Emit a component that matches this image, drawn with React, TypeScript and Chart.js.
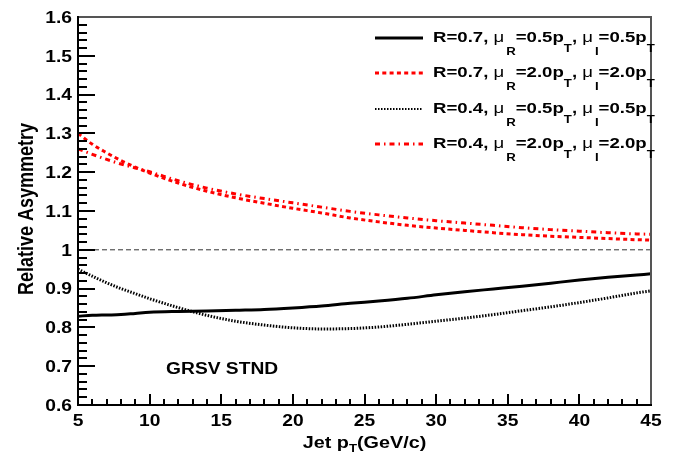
import React, { useEffect, useRef } from "react";
import { Chart, registerables } from "chart.js";

Chart.register(...registerables);

// ---- data ----
const ptValues = [5, 6, 7, 8, 9, 10, 12, 14, 16, 18, 20, 22, 24, 26, 28, 30, 32, 34, 36, 38, 40, 42, 44, 45];
const asymR07Low = [0.829, 0.831, 0.832, 0.833, 0.836, 0.839, 0.841, 0.842, 0.844, 0.846, 0.85, 0.855, 0.862, 0.868, 0.875, 0.884, 0.892, 0.899, 0.906, 0.914, 0.922, 0.929, 0.935, 0.938];
const asymR07High = [1.3, 1.272, 1.25, 1.23, 1.213, 1.198, 1.172, 1.151, 1.134, 1.12, 1.107, 1.095, 1.082, 1.072, 1.063, 1.056, 1.05, 1.044, 1.039, 1.035, 1.032, 1.029, 1.026, 1.025];
const asymR04Low = [0.95, 0.932, 0.915, 0.9, 0.887, 0.874, 0.851, 0.831, 0.816, 0.806, 0.799, 0.796, 0.797, 0.801, 0.808, 0.816, 0.824, 0.833, 0.843, 0.853, 0.864, 0.876, 0.889, 0.894];
const asymR04High = [1.26, 1.246, 1.233, 1.221, 1.211, 1.201, 1.178, 1.159, 1.144, 1.132, 1.121, 1.11, 1.099, 1.09, 1.082, 1.075, 1.069, 1.063, 1.057, 1.052, 1.048, 1.044, 1.041, 1.04];
const referenceLevel = 1.0;

const xTickValues = [5, 10, 15, 20, 25, 30, 35, 40, 45];
const xTickLabels = ["5", "10", "15", "20", "25", "30", "35", "40", "45"];
const yTickValues = [0.6, 0.7, 0.8, 0.9, 1.0, 1.1, 1.2, 1.3, 1.4, 1.5, 1.6];
const yTickLabels = ["0.6", "0.7", "0.8", "0.9", "1", "1.1", "1.2", "1.3", "1.4", "1.5", "1.6"];

const legendRadius = ["0.7", "0.7", "0.4", "0.4"];
const legendScale = ["0.5", "2.0", "0.5", "2.0"];
const yTitle = "Relative Asymmetry";
const xTitleMain = "Jet p";
const xTitleSub = "T";
const xTitleTail = "(GeV/c)";
const annotationText = "GRSV STND";

// ---- drawing helpers ----
const STRETCH = 1.2;
const FAMILY = '"Liberation Sans", Arial, Helvetica, sans-serif';

function drawText(ctx: CanvasRenderingContext2D, s: string, x: number, y: number, font: string, align: CanvasTextAlign = "left", sx = STRETCH) {
  ctx.save();
  ctx.translate(x, y);
  ctx.scale(sx, 1);
  ctx.font = font;
  ctx.textAlign = align;
  ctx.textBaseline = "alphabetic";
  ctx.fillStyle = "#000";
  ctx.fillText(s, 0, 0);
  ctx.restore();
}

function measure(ctx: CanvasRenderingContext2D, s: string, font: string) {
  ctx.save();
  ctx.font = font;
  const w = ctx.measureText(s).width * STRETCH;
  ctx.restore();
  return w;
}

type Seg = { t: string; f: string; dy?: number; pre?: number };

function drawRich(ctx: CanvasRenderingContext2D, segs: Seg[], x: number, y: number) {
  let cx = x;
  for (const s of segs) {
    cx += s.pre || 0;
    drawText(ctx, s.t, cx, y + (s.dy || 0), s.f);
    cx += measure(ctx, s.t, s.f);
  }
  return cx;
}

function richWidth(ctx: CanvasRenderingContext2D, segs: Seg[]) {
  let w = 0;
  for (const s of segs) w += (s.pre || 0) + measure(ctx, s.t, s.f);
  return w;
}

function drawTicks(chart: any) {
  const ctx: CanvasRenderingContext2D = chart.ctx;
  const xs = chart.scales.x;
  const ys = chart.scales.y;
  const L = Math.round(xs.left);
  const B = Math.round(ys.bottom);
  ctx.save();
  ctx.fillStyle = "#000";
  for (let i = 0; i < yTickValues.length; i++) {
    const py = Math.round(ys.getPixelForValue(yTickValues[i]));
    ctx.fillRect(L, py - 1, 17, 2);
    if (i < yTickValues.length - 1) {
      const step = (yTickValues[i + 1] - yTickValues[i]) / 5;
      for (let k = 1; k < 5; k++) {
        const my = Math.round(ys.getPixelForValue(yTickValues[i] + k * step));
        ctx.fillRect(L, my - 1, 9, 2);
      }
    }
  }
  for (let i = 0; i < xTickValues.length; i++) {
    const px = Math.round(xs.getPixelForValue(xTickValues[i]));
    ctx.fillRect(px - 1, B - 11, 2, 11);
    if (i < xTickValues.length - 1) {
      const step = (xTickValues[i + 1] - xTickValues[i]) / 5;
      for (let k = 1; k < 5; k++) {
        const mx = Math.round(xs.getPixelForValue(xTickValues[i] + k * step));
        ctx.fillRect(mx - 1, B - 6, 2, 6);
      }
    }
  }
  ctx.restore();
}

const rootPlugin = {
  id: "rootStyle",
  beforeDraw(chart: any) {
    const ctx = chart.ctx;
    ctx.save();
    ctx.fillStyle = "#fff";
    ctx.fillRect(0, 0, chart.width, chart.height);
    ctx.restore();
  },
  afterDraw(chart: any) {
    const ctx: CanvasRenderingContext2D = chart.ctx;
    const xs = chart.scales.x;
    const ys = chart.scales.y;
    const L = xs.left;
    const R = xs.right;
    const T = ys.top;
    const B = ys.bottom;

    drawTicks(chart);

    // frame: top/right gray, left/bottom black
    ctx.save();
    ctx.setLineDash([]);
    ctx.lineCap = "square";
    ctx.strokeStyle = "#555";
    ctx.lineWidth = 2;
    ctx.beginPath();
    ctx.moveTo(L, T);
    ctx.lineTo(R, T);
    ctx.lineTo(R, B);
    ctx.stroke();
    ctx.strokeStyle = "#000";
    ctx.beginPath();
    ctx.moveTo(L, T);
    ctx.lineTo(L, B);
    ctx.lineTo(R, B);
    ctx.stroke();
    ctx.restore();

    // tick labels
    const tickFont = `bold 16px ${FAMILY}`;
    for (let i = 0; i < yTickValues.length; i++) {
      const py = ys.getPixelForValue(yTickValues[i]);
      drawText(ctx, yTickLabels[i], L - 6, py + 5.8, tickFont, "right");
    }
    for (let i = 0; i < xTickValues.length; i++) {
      const px = xs.getPixelForValue(xTickValues[i]);
      drawText(ctx, xTickLabels[i], px, B + 21, tickFont, "center");
    }

    // x title
    const tFont = `bold 16.5px ${FAMILY}`;
    const tSub = `bold 11px ${FAMILY}`;
    const xSegs: Seg[] = [
      { t: xTitleMain, f: tFont },
      { t: xTitleSub, f: tSub, dy: 4 },
      { t: xTitleTail, f: tFont },
    ];
    const xw = richWidth(ctx, xSegs);
    drawRich(ctx, xSegs, (L + R) / 2 - xw / 2, B + 43);

    // y title (rotated)
    ctx.save();
    ctx.translate(33, (T + B) / 2 - 2);
    ctx.rotate(-Math.PI / 2);
    ctx.scale(1, STRETCH);
    ctx.font = `bold 18px ${FAMILY}`;
    ctx.textAlign = "center";
    ctx.textBaseline = "alphabetic";
    ctx.fillStyle = "#000";
    ctx.fillText(yTitle, 0, 0);
    ctx.restore();

    // annotation
    drawText(ctx, annotationText, xs.getPixelForValue(11.15), ys.getPixelForValue(0.68), `bold 16px ${FAMILY}`, "left");

    // legend
    const lMain = `bold 15.5px ${FAMILY}`;
    const lMu = `15.5px ${FAMILY}`;
    const lSub = `bold 11px ${FAMILY}`;
    const baselines = [41.5, 76.5, 112.5, 147.5];
    const dsOrder = [1, 2, 3, 4];
    for (let i = 0; i < 4; i++) {
      const ds = chart.data.datasets[dsOrder[i]];
      const base = baselines[i];
      ctx.save();
      ctx.strokeStyle = ds.borderColor;
      ctx.lineWidth = i === 2 ? 2 : ds.borderWidth;
      ctx.setLineDash(ds.borderDash || []);
      ctx.beginPath();
      ctx.moveTo(375, base - 3.5);
      ctx.lineTo(423, base - 3.5);
      ctx.stroke();
      ctx.restore();
      const segs: Seg[] = [
        { t: `R=${legendRadius[i]}, `, f: lMain },
        { t: "\u03bc", f: lMu },
        { t: "R", f: lSub, dy: 13.5, pre: 2 },
        { t: `=${legendScale[i]}p`, f: lMain },
        { t: "T", f: lSub, dy: 10 },
        { t: ", ", f: lMain },
        { t: "\u03bc", f: lMu },
        { t: "I", f: lSub, dy: 13.5, pre: 2 },
        { t: `=${legendScale[i]}p`, f: lMain },
        { t: "T", f: lSub, dy: 10 },
      ];
      drawRich(ctx, segs, 433, base);
    }
  },
};

function toPoints(vals: number[]) {
  return ptValues.map((x, i) => ({ x, y: vals[i] }));
}

export default function App() {
  const ref = useRef<HTMLCanvasElement | null>(null);
  useEffect(() => {
    if (!ref.current) return;
    const chart = new Chart(ref.current, {
      type: "line",
      data: {
        datasets: [
          {
            label: "reference",
            data: [
              { x: ptValues[0], y: referenceLevel },
              { x: ptValues[ptValues.length - 1], y: referenceLevel },
            ],
            borderColor: "#333",
            borderWidth: 1,
            borderDash: [5, 3],
            pointRadius: 0,
          },
          {
            label: "R=0.7, muR=0.5pT, muI=0.5pT",
            data: toPoints(asymR07Low),
            borderColor: "#000",
            borderWidth: 3,
            pointRadius: 0,
            cubicInterpolationMode: "monotone",
          },
          {
            label: "R=0.7, muR=2.0pT, muI=2.0pT",
            data: toPoints(asymR07High),
            borderColor: "#ff0000",
            borderWidth: 3,
            borderDash: [4, 3.3],
            pointRadius: 0,
            cubicInterpolationMode: "monotone",
          },
          {
            label: "R=0.4, muR=0.5pT, muI=0.5pT",
            data: toPoints(asymR04Low),
            borderColor: "#000",
            borderWidth: 3,
            borderDash: [1.5, 1.5],
            pointRadius: 0,
            cubicInterpolationMode: "monotone",
          },
          {
            label: "R=0.4, muR=2.0pT, muI=2.0pT",
            data: toPoints(asymR04High),
            borderColor: "#ff0000",
            borderWidth: 3,
            borderDash: [5, 4, 1.5, 4],
            pointRadius: 0,
            cubicInterpolationMode: "monotone",
          },
        ],
      },
      options: {
        animation: false,
        responsive: false,
        maintainAspectRatio: false,
        devicePixelRatio: 1,
        layout: { padding: { top: 17, right: 29, left: 0, bottom: 0 }, autoPadding: false },
        plugins: { legend: { display: false }, tooltip: { enabled: false } },
        events: [],
        scales: {
          x: {
            type: "linear",
            min: 5,
            max: 45,
            ticks: { display: false },
            grid: { display: false, drawTicks: false },
            border: { display: false },
            afterFit: (s: any) => {
              s.height = 49;
            },
          },
          y: {
            type: "linear",
            min: 0.6,
            max: 1.6,
            ticks: { display: false },
            grid: { display: false, drawTicks: false },
            border: { display: false },
            afterFit: (s: any) => {
              s.width = 78;
            },
          },
        },
      } as any,
      plugins: [rootPlugin],
    });
    return () => chart.destroy();
  }, []);
  return (
    <div style={{ position: "fixed", left: 0, top: 0, width: 680, height: 454, background: "#fff" }}>
      <canvas ref={ref} width={680} height={454} style={{ display: "block" }} />
    </div>
  );
}
